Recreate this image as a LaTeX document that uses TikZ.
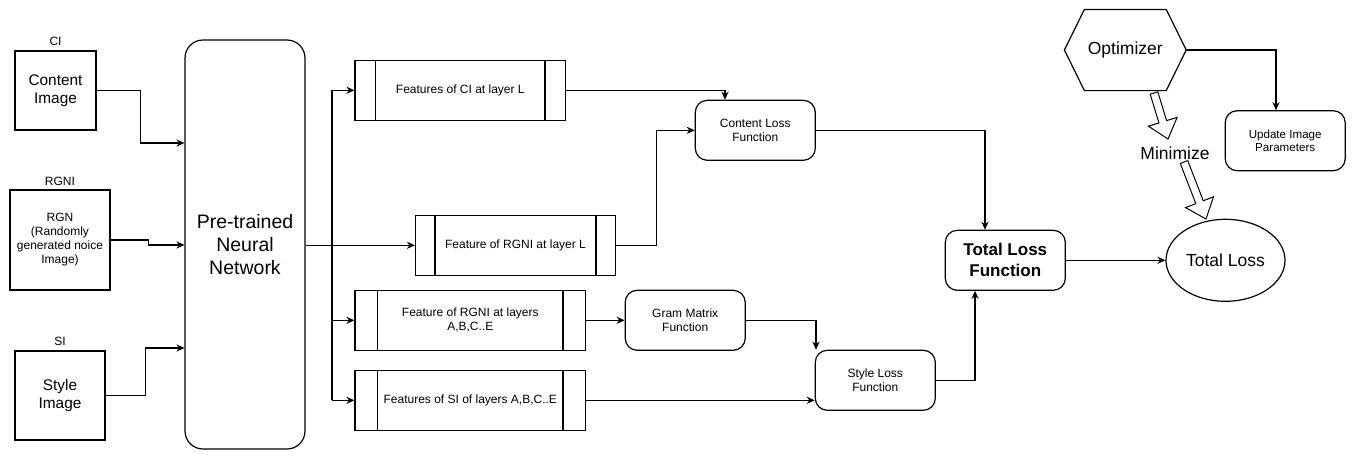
\documentclass[tikz,border=0pt]{standalone}
\usepackage{fontspec}
\setmainfont{Liberation Sans}
\usetikzlibrary{positioning, arrows.meta, calc, shapes.geometric}

\begin{document}
\begin{tikzpicture}[x=0.5pt, y=-0.5pt, >={Stealth[length=4pt, width=3.6pt]}, line width=0.6pt,
  img/.style={draw, inner sep=0, align=center, font=\fontsize{7.7}{9}\selectfont},
  proc/.style={draw, inner sep=0, minimum height=30pt, align=center, font=\fontsize{6}{7}\selectfont},
  rbox/.style={draw, rounded corners=6pt, inner sep=0, minimum width=60pt, minimum height=30pt, align=center, font=\fontsize{6}{7}\selectfont},
  tag/.style={font=\fontsize{6}{7}\selectfont},
  big/.style={font=\fontsize{8.75}{10.5}\selectfont}]
  \useasboundingbox (0,0) rectangle (1356,461);
  % inputs
  \node[img, minimum width=40.5pt, minimum height=39.5pt] (ci) at (55.5,90.5) {Content\\Image};
  \node[tag] (citag) at (55.5,41) {CI};
  \node[img, minimum width=50pt, minimum height=50pt, font=\fontsize{6}{7}\selectfont] (rgn) at (60,240) {RGN\\(Randomly\\generated noice\\Image)};
  \node[tag] (rgntag) at (60,181) {RGNI};
  \node[img, minimum width=45pt, minimum height=44.5pt] (si) at (60,395.5) {Style\\Image};
  \node[tag] (sitag) at (60,341) {SI};
  \node[draw, rounded corners=9pt, inner sep=0, minimum width=60pt, minimum height=204.5pt, align=center,
        font=\fontsize{9.75}{11.5}\selectfont] (nn) at (245,244.5) {Pre-trained\\Neural\\Network};
  % feature boxes
  \foreach \n/\x/\y/\w/\t in {fc/460.3/90.3/105.3pt/{Features of CI at layer L},
      fr/515.5/245.3/100pt/{Feature of RGNI at layer L},
      fg/470.3/320.3/115.3pt/{Feature of RGNI at layers\\A,B,C..E},
      fs/470.3/400.3/115.3pt/{Features of SI of layers A,B,C..E}}{
    \node[proc, minimum width=\w] (\n) at (\x,\y) {\t};
    \draw ($(\n.north west)!0.1!(\n.north east)$) -- ($(\n.south west)!0.1!(\n.south east)$)
          ($(\n.north east)!0.1!(\n.north west)$) -- ($(\n.south east)!0.1!(\n.south west)$);
  }
  % loss functions
  \node[rbox] (cl) at (755.3,130.3) {Content Loss\\Function};
  \node[rbox] (gm) at (685.2,320.3) {Gram Matrix\\Function};
  \node[rbox] (sl) at (875.3,380.3) {Style Loss\\Function};
  \node[rbox, font=\fontsize{8.5}{10.5}\selectfont\bfseries] (tlf) at (1005.3,260.3) {Total Loss\\Function};
  \node[draw, ellipse, inner sep=0, minimum width=59.5pt, minimum height=41pt, big] (tl) at (1225.5,260.3) {Total Loss};
  \node[rbox, font=\fontsize{5.8}{6.8}\selectfont] (up) at (1285.2,140.7) {Update Image\\Parameters};
  % optimizer
  \node[inner sep=0, minimum width=60.3pt, minimum height=40pt, big] (opt) at (1125.3,50) {Optimizer};
  \draw (opt.west) -- ($(opt.north west)+(20,0)$) -- ($(opt.north east)+(-20,0)$) -- (opt.east)
        -- ($(opt.south east)+(-20,0)$) -- ($(opt.south west)+(20,0)$) -- cycle;
  \node[big] (min) at (1175,153) {Minimize};
  \coordinate (m1a) at (1154,93);
  \coordinate (m1b) at (1168,139);
  \coordinate (m2a) at (1184,162);
  \coordinate (m2b) at (1206,219);
  \foreach \a/\b in {m1a/m1b, m2a/m2b}{
    \path ($(\b)!9pt!(\a)$) coordinate (hb);
    \draw[fill=white, line width=0.5pt] ($(\a)!2pt!90:(\b)$) -- ($(hb)!2pt!90:(\b)$) -- ($(hb)!7.5pt!90:(\b)$)
      -- (\b) -- ($(hb)!7.5pt!-90:(\b)$) -- ($(hb)!2pt!-90:(\b)$) -- ($(\a)!2pt!-90:(\b)$) -- cycle;
  }
  % connectors
  \draw[->] (ci.east) -- ++(44,0) |- (nn.west |- 0,143);
  \draw[->] (rgn.east) -- ++(38,0) |- (nn.west |- 0,245);
  \draw[->] (si.east) -- ++(40,0) |- (nn.west |- 0,348);
  \coordinate (split) at (332,245.3);
  \draw[->] (nn.east |- fr.west) -- (fr.west);
  \draw (split |- fc.west) -- (split |- fs.west);
  \foreach \n in {fc,fg,fs}{ \draw[->] (split |- \n.west) -- (\n.west); }
  \draw[->] (fc.east) -| (cl.north -| 725,0);
  \draw[->] (fr.east) -- ++(40,0) |- (cl.west);
  \draw[->] (cl.east) -| (tlf.north -| 985,0);
  \draw[->] (fg.east) -- (gm.west);
  \draw[->] (gm.east) -| (sl.north -| 816,0);
  \draw[->] (fs.east) -- (sl.west |- fs.east);
  \draw[->] (sl.east) -| (tlf.south -| 975,0);
  \draw[->] (tlf.east) -- (tl.west);
  \draw[->] (opt.east) -| (up.north -| 1276,0);
\end{tikzpicture}
\end{document}
